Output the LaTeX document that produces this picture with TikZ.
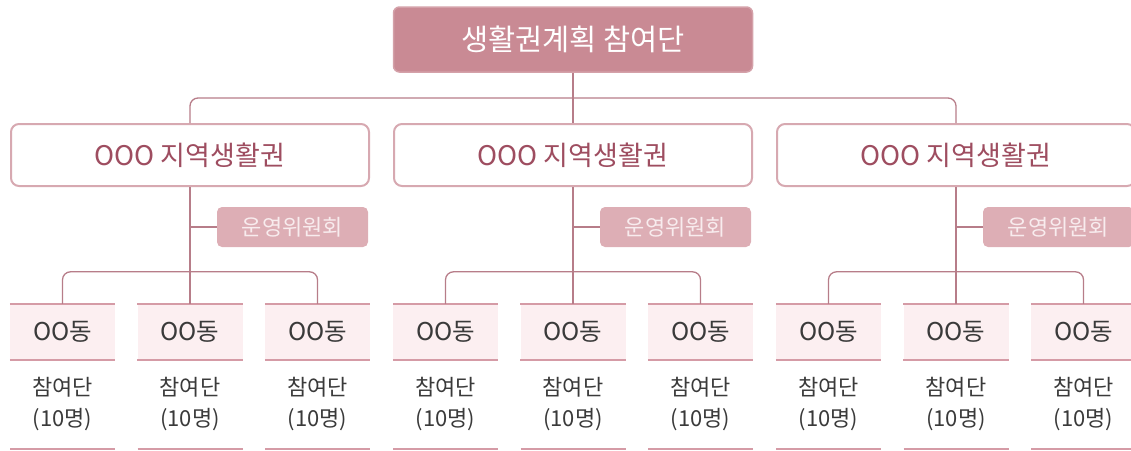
\documentclass[tikz,border=0pt]{standalone}
\usepackage{fontspec}
\setmainfont{Noto Sans CJK KR}
\definecolor{topfill}{HTML}{C98A94}
\definecolor{midborder}{HTML}{D7A9B1}
\definecolor{midtext}{HTML}{9E4D60}
\definecolor{comfill}{HTML}{DDAEB5}
\definecolor{comtext}{HTML}{F8ECEE}
\definecolor{connc}{HTML}{B77D89}
\definecolor{dongfill}{HTML}{FCEFF1}
\definecolor{dongline}{HTML}{D59BA6}
\definecolor{graytext}{HTML}{3A3A3A}
\tikzset{
  topbox/.style={fill=topfill, draw=topfill!80!white, line width=1.5pt, rounded corners=6pt,
    minimum width=359pt, minimum height=65pt, inner sep=0pt, text=white,
    font=\fontsize{29.5}{32}\selectfont},
  midbox/.style={fill=white, draw=midborder, line width=2pt, rounded corners=8pt,
    minimum width=358pt, minimum height=62pt, inner sep=0pt, text=midtext,
    font=\fontsize{27}{30}\selectfont},
  combox/.style={fill=comfill, rounded corners=5pt, minimum width=151pt, minimum height=40pt,
    inner sep=0pt, text=comtext, font=\fontsize{22}{25}\selectfont},
  dongbox/.style={fill=dongfill, minimum width=105pt, minimum height=56pt, inner sep=0pt,
    text=graytext, font=\fontsize{24.5}{28}\selectfont},
  dline/.style={draw=dongline, line width=2pt},
  conn/.style={draw=connc, line width=1.3pt},
  sub/.style={text=graytext, inner sep=0pt, font=\fontsize{22}{25}\selectfont}
}
\begin{document}
\begin{tikzpicture}[x=1pt,y=-1pt]
\useasboundingbox (0,0) rectangle (1131,450);
\node[topbox] (top) at (573,39.5) {생활권계획 참여단};
\foreach \g/\cx in {1/190,2/573,3/956}{
  \node[midbox] (m\g) at (\cx,155) {OOO 지역생활권};
  \node[combox] (c\g) at (\cx+102.5,227) {운영위원회};
  \foreach \j/\dx in {1/-127.5,2/0,3/127.5}{
    \node[dongbox] (d\g\j) at (\cx+\dx,332) {OO동};
    \draw[dline] (d\g\j.north west) -- (d\g\j.north east);
    \draw[dline] (d\g\j.south west) -- (d\g\j.south east);
    \node[sub] (p\g\j) at (\cx+\dx,387) {참여단};
    \node[sub] (n\g\j) at (\cx+\dx,420) {(10명)};
    \coordinate (bl\g\j) at (\cx+\dx-52.5,449);
    \coordinate (br\g\j) at (\cx+\dx+52.5,449);
    \draw[dline] (bl\g\j) -- (br\g\j);
  }
  \draw[conn] (m\g.south) -- (d\g2.north);
  \draw[conn] (m\g.south |- c\g.west) -- (c\g.west);
  \draw[conn, rounded corners=8pt] (d\g1.north) -- ++(0,-32) -| (d\g3.north);
}
\draw[conn] (top.south) -- (m2.north);
\draw[conn, rounded corners=8pt] (m1.north) -- ++(0,-25) -| (m3.north);
\end{tikzpicture}
\end{document}
